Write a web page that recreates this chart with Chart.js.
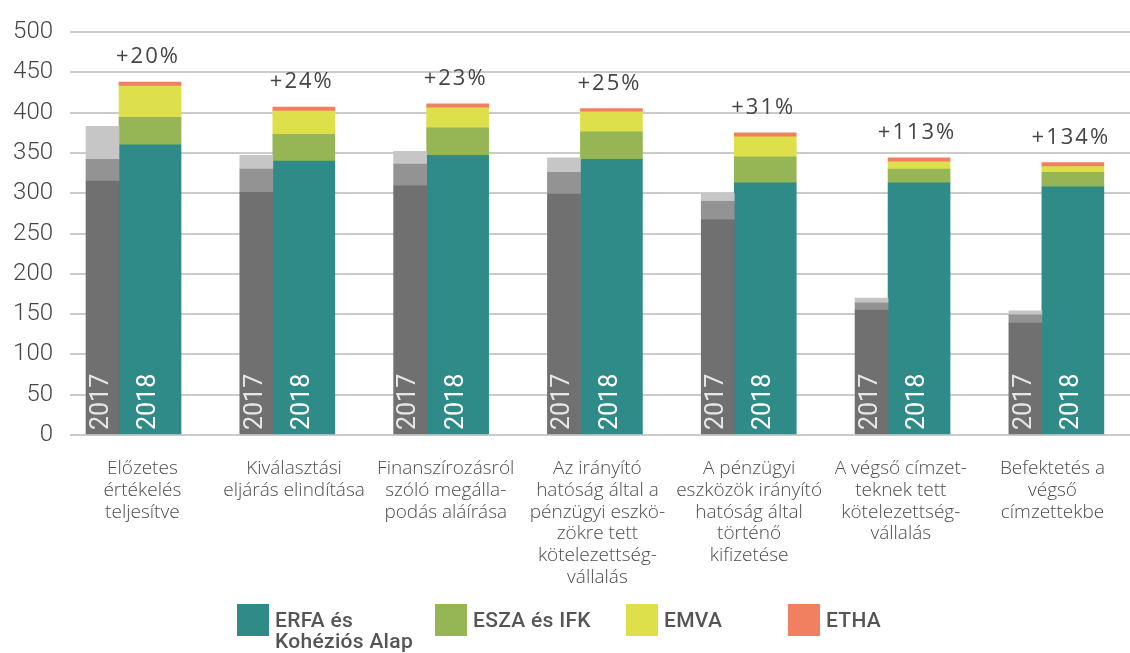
<!DOCTYPE html>
<html lang="hu">
<head>
<meta charset="utf-8">
<title>Pénzügyi eszközök – 2017 / 2018</title>
<script src="https://cdn.jsdelivr.net/npm/chart.js@4.4.1/dist/chart.umd.min.js"></script>
<style>
  html, body { margin: 0; padding: 0; background: #fff; }
  #wrap { position: relative; width: 1130px; height: 653px; }
  #chart { position: absolute; left: 0; top: 0; }
  #legend { position: absolute; left: 0; top: 604px; width: 1130px; height: 49px;
            font-family: Roboto, sans-serif; font-size: 21px; font-weight: 500; color: #555;
            letter-spacing: 0.3px; }
  #legend .item { position: absolute; top: 0; display: flex; align-items: flex-start; }
  #legend .item:nth-child(1) { left: 237px; }
  #legend .item:nth-child(2) { left: 435px; }
  #legend .item:nth-child(3) { left: 626px; }
  #legend .item:nth-child(4) { left: 788px; }
  #legend .box { width: 32px; height: 32px; margin-right: 6px; flex: none; }
  #legend .txt { line-height: 21px; padding-top: 6px; }
</style>
</head>
<body>
<div id="wrap">
  <canvas id="chart" width="1130" height="653"></canvas>
  <div id="legend"></div>
</div>
<script>
// --- data ------------------------------------------------------------------
const categories = [
    ["Előzetes", "értékelés", "teljesítve"],
    ["Kiválasztási", "eljárás elindítása"],
    ["Finanszírozásról", "szóló megálla-", "podás aláírása"],
    ["Az irányító", "hatóság által a", "pénzügyi eszkö-", "zökre tett", "kötelezettség-", "vállalás"],
    ["A pénzügyi", "eszközök irányító", "hatóság által", "történő", "kifizetése"],
    ["A végső címzet-", "teknek tett", "kötelezettség-", "vállalás"],
    ["Befektetés a", "végső", "címzettekbe"],
];

// 2017 (grey shades, bottom to top)
const dark2017 = [315, 301, 309, 299, 267, 155, 139];
const mid2017 = [27, 29, 27, 27, 23, 9, 10];
const light2017 = [41, 17, 16, 18, 10, 6, 5];

// 2018 per fund (bottom to top)
const erfa2018 = [360, 340, 347, 342, 313, 313, 308];
const esza2018 = [34, 33, 34, 34, 32, 17, 18];
const emva2018 = [39, 29, 25, 25, 25, 9, 7];
const etha2018 = [5, 5, 5, 4, 5, 5, 5];

const growthLabels = ["+20%", "+24%", "+23%", "+25%", "+31%", "+113%", "+134%"];
const yearLabels = ["2017", "2018"];

// --- styling ---------------------------------------------------------------
const TEXT_COLOR = "#454545";
const GRID_COLOR = "#cbcbcb";
const COLORS = {
    dark: "#707070",
    mid: "#939393",
    light: "#c6c6c6",
    erfa: "#2e8b87",
    esza: "#96b655",
    emva: "#dee04b",
    etha: "#ef8161",
};

Chart.defaults.font.family = "Roboto, 'Open Sans', sans-serif";
Chart.defaults.color = TEXT_COLOR;

const toPoints = (arr) => arr.map((v, i) => ({ x: i, y: v }));

// 2017 stack is narrow, 2018 stack wide; both share the index axis
function bar2017(label, values, color) {
    return {
        label, data: toPoints(values), backgroundColor: color,
        xAxisID: "x", yAxisID: "y", stack: "2017",
        barThickness: 33, borderWidth: 0,
    };
}
function bar2018(label, values, color) {
    return {
        label, data: toPoints(values), backgroundColor: color,
        xAxisID: "x", yAxisID: "y", stack: "2018",
        barThickness: 62, borderWidth: 0,
    };
}

const datasets = [
    bar2017("2017", dark2017, COLORS.dark),
    bar2017("2017 (2)", mid2017, COLORS.mid),
    bar2017("2017 (3)", light2017, COLORS.light),
    bar2018("ERFA és Kohéziós Alap", erfa2018, COLORS.erfa),
    bar2018("ESZA és IFK", esza2018, COLORS.esza),
    bar2018("EMVA", emva2018, COLORS.emva),
    bar2018("ETHA", etha2018, COLORS.etha),
];

const legendItems = [
    { text: ["ERFA és", "Kohéziós Alap"], color: COLORS.erfa },
    { text: ["ESZA és IFK"], color: COLORS.esza },
    { text: ["EMVA"], color: COLORS.emva },
    { text: ["ETHA"], color: COLORS.etha },
];

// year numbers written vertically inside the bottom of the bars
const yearLabelPlugin = {
    id: "yearLabels",
    afterDatasetsDraw(chart) {
        const ctx = chart.ctx;
        const pairs = [[0, "#e6e6e6", yearLabels[0]], [3, "#ffffff", yearLabels[1]]];
        ctx.save();
        ctx.font = "25px Roboto, 'Open Sans', sans-serif";
        ctx.textAlign = "left";
        ctx.textBaseline = "middle";
        pairs.forEach(([dsIndex, color, text]) => {
            ctx.fillStyle = color;
            chart.getDatasetMeta(dsIndex).data.forEach((el) => {
                ctx.save();
                ctx.translate(el.x - 1, el.base - 4);
                ctx.rotate(-Math.PI / 2);
                ctx.fillText(text, 0, 0);
                ctx.restore();
            });
        });
        ctx.restore();
    },
};

// growth percentages above the 2018 stacks
const growthPlugin = {
    id: "growthLabels",
    afterDatasetsDraw(chart) {
        const ctx = chart.ctx;
        const top = chart.getDatasetMeta(datasets.length - 1).data;
        ctx.save();
        ctx.font = "22px 'Open Sans', Roboto, sans-serif";
        ctx.letterSpacing = "2px";
        ctx.fillStyle = TEXT_COLOR;
        ctx.textAlign = "center";
        ctx.textBaseline = "middle";
        top.forEach((el, i) => ctx.fillText(growthLabels[i], el.x - 2, el.y - 25));
        ctx.restore();
    },
};

new Chart(document.getElementById("chart"), {
    type: "bar",
    data: { datasets },
    options: {
        responsive: false,
        animation: false,
        layout: { padding: { top: 32, right: 0, bottom: 0, left: 0 } },
        plugins: {
            legend: { display: false },
            tooltip: { enabled: false },
        },
        scales: {
            x: {
                type: "linear", display: false, stacked: true, offset: false,
                grid: { offset: false }, min: -0.3186, max: 6.573,
                ticks: { stepSize: 1 },
            },
            xl: {
                type: "linear",
                position: "bottom",
                offset: false,
                min: -0.477,
                max: 6.511,
                grid: { display: false, offset: false },
                border: { display: false },
                afterBuildTicks: (axis) => {
                    axis.ticks = categories.map((c, i) => ({ value: i }));
                },
                afterFit: (axis) => {
                    axis.height = 218;
                },
                ticks: {
                    autoSkip: false,
                    maxRotation: 0,
                    padding: 15,
                    font: { family: "'Open Sans', Roboto, sans-serif", size: 19, weight: 300, lineHeight: 1.14 },
                    color: "#4d4d4d",
                    callback: (value) => categories[value],
                },
            },
            y: {
                stacked: true,
                min: 0,
                max: 500,
                border: { display: false },
                grid: { color: GRID_COLOR, lineWidth: 2, drawTicks: false },
                afterFit: (axis) => {
                    axis.width = 70;
                },
                ticks: { stepSize: 50, padding: 17, font: { size: 24, weight: 300 }, color: TEXT_COLOR },
            },
        },
    },
    plugins: [yearLabelPlugin, growthPlugin],
});

// html legend, fund colours only
const legendEl = document.getElementById("legend");
legendItems.forEach((item) => {
    const div = document.createElement("div");
    div.className = "item";
    const box = document.createElement("span");
    box.className = "box";
    box.style.background = item.color;
    const txt = document.createElement("span");
    txt.className = "txt";
    txt.innerHTML = item.text.join("<br>");
    div.appendChild(box);
    div.appendChild(txt);
    legendEl.appendChild(div);
});
</script>
</body>
</html>
